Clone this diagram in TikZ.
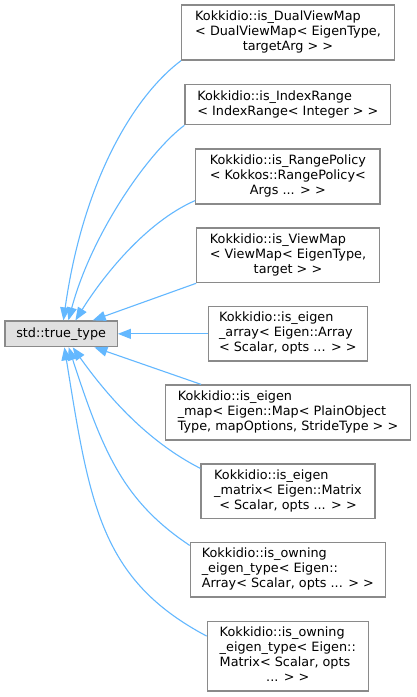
\documentclass[tikz,border=0pt]{standalone}
\usepackage{fontspec}
\setmainfont{DejaVu Sans}
\usetikzlibrary{arrows.meta,calc}
\definecolor{edgeblue}{HTML}{63B8FF}
\definecolor{boxgray}{HTML}{8A8A8A}
\definecolor{ttfill}{HTML}{E0E0E0}
\newcommand{\lastc}[1]{\multicolumn{1}{@{}c@{}}{#1}}
\newcommand{\cls}[1]{\raisebox{1.5pt}{\begin{tabular}{@{}l@{}}#1\end{tabular}}}
\begin{document}
\begin{tikzpicture}[x=1pt,y=-1pt,
  clsbox/.style={draw=boxgray, line width=1.2pt, fill=white, inner sep=0pt,
    font=\fontsize{12.8}{15}\selectfont, text=black},
  ttbox/.style={clsbox, fill=ttfill},
  edg/.style={draw=edgeblue, line width=1.1pt, -{Triangle[length=13pt,width=10pt]}}]
\useasboundingbox (0,0) rectangle (416,697);
\fill[white] (0,0) rectangle (416,697);

\node[ttbox, minimum width=112.3pt, minimum height=25.7pt] (tt) at (61.15,333.85) {std::true\_type};

\node[clsbox, minimum width=212.6pt, minimum height=55pt] (b1) at (288,32.5)
  {\cls{Kokkidio::is\_DualViewMap\\< DualViewMap< EigenType,\\\lastc{targetArg > >}}};
\node[clsbox, minimum width=205.7pt, minimum height=40.4pt] (b2) at (287.85,104.5)
  {\cls{Kokkidio::is\_IndexRange\\\lastc{< IndexRange< Integer > >}}};
\node[clsbox, minimum width=184.3pt, minimum height=55pt] (b3) at (287.85,176.5)
  {\cls{Kokkidio::is\_RangePolicy\\< Kokkos::RangePolicy<\\\lastc{Args ... > >}}};
\node[clsbox, minimum width=182.6pt, minimum height=54.7pt] (b4) at (288,255.35)
  {\cls{Kokkidio::is\_ViewMap\\< ViewMap< EigenType,\\\lastc{target > >}}};
\node[clsbox, minimum width=159pt, minimum height=54.3pt] (b5) at (287.8,333.85)
  {\cls{Kokkidio::is\_eigen\\\_array< Eigen::Array\\\lastc{< Scalar, opts ... > >}}};
\node[clsbox, minimum width=245.4pt, minimum height=55pt] (b6) at (288,412.5)
  {\cls{Kokkidio::is\_eigen\\\_map< Eigen::Map< PlainObject\\\lastc{Type, mapOptions, StrideType > >}}};
\node[clsbox, minimum width=174pt, minimum height=54.7pt] (b7) at (288,491.35)
  {\cls{Kokkidio::is\_eigen\\\_matrix< Eigen::Matrix\\\lastc{< Scalar, opts ... > >}}};
\node[clsbox, minimum width=195pt, minimum height=54.3pt] (b8) at (287.8,569.85)
  {\cls{Kokkidio::is\_owning\\\_eigen\_type< Eigen::\\\lastc{Array< Scalar, opts ... > >}}};
\node[clsbox, minimum width=161pt, minimum height=69.3pt] (b9) at (287.8,656.35)
  {\cls{Kokkidio::is\_owning\\\_eigen\_type< Eigen::\\Matrix< Scalar, opts\\\lastc{... > >}}};

% connectors (child -> base)
\draw[edg] (b1.south west) .. controls +(-47.9,36) and +(19.5,-138.6) .. ($(tt.north west)+(59,0)$);
\draw[edg] (b2.south west) .. controls +(-36,27) and +(23.3,-87) .. ($(tt.north west)+(64,0)$);
\draw[edg] ($(b3.south west)+(0,-4)$) .. controls +(-50.4,22) and +(26.5,-42.4) .. ($(tt.north west)+(71,0)$);
\draw[edg] (b4.south west) -- ($(tt.north west)+(88.3,0)$);
\draw[edg] (b5.west) -- (tt.east);
\draw[edg] ($(b6.north west)+(36.4,0)$) -- ($(tt.south west)+(90,0)$);
\draw[edg] ($(b7.north west)+(0,5)$) .. controls +(-53.4,-27.2) and +(34.8,48.8) .. ($(tt.south west)+(68.3,0)$);
\draw[edg] ($(b8.north west)+(0,3.3)$) .. controls +(-66.6,-44.4) and +(34.1,104.5) .. ($(tt.south west)+(64.3,0)$);
\draw[edg] ($(b9.north west)+(0,15)$) .. controls +(-106,-56.2) and +(25.4,157.9) .. ($(tt.south west)+(60,0)$);
\end{tikzpicture}
\end{document}
